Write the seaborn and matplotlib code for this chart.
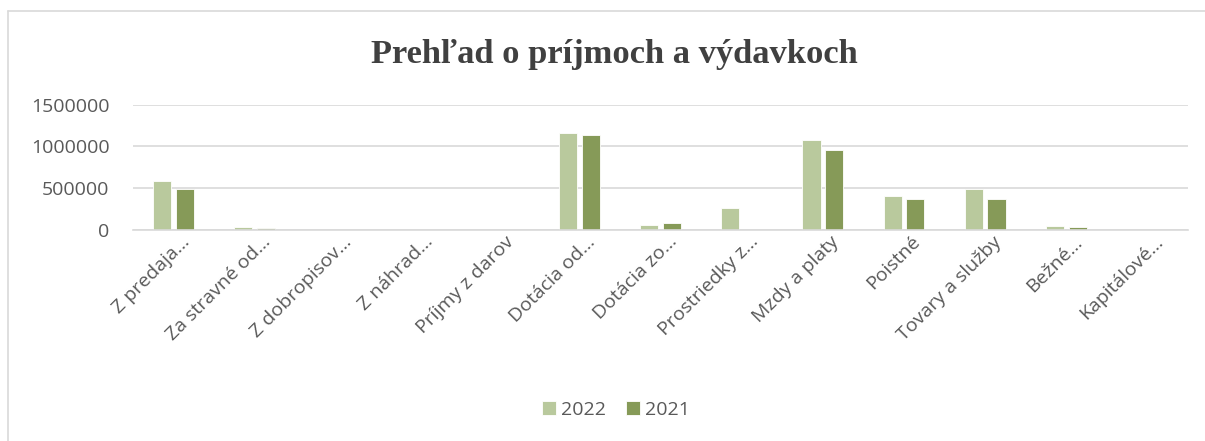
import matplotlib
matplotlib.use("Agg")
import matplotlib.pyplot as plt
import matplotlib.transforms as mtransforms
import seaborn as sns
import pandas as pd
from matplotlib.lines import Line2D
from matplotlib.ticker import FixedLocator

categories = ["Z predaja…", "Za stravné od…", "Z dobropisov…", "Z náhrad…", "Príjmy z darov",
              "Dotácia od…", "Dotácia zo…", "Prostriedky z…", "Mzdy a platy", "Poistné",
              "Tovary a služby", "Bežné…", "Kapitálové…"]
values_2022 = [583000, 35000, 5000, 1000, 0, 1160000, 60000, 262000, 1072000, 408000, 496000, 42000, 3000]
values_2021 = [485000, 25000, 3000, 0, 0, 1135000, 88000, 0, 955000, 369000, 369000, 32000, 2000]
series = ["2022", "2021"]
yticks = [0, 500000, 1000000, 1500000]

df = pd.DataFrame({
    "cat": categories * 2,
    "val": values_2022 + values_2021,
    "year": [series[0]] * len(categories) + [series[1]] * len(categories),
})

sns.set_theme(style="white")
plt.rcParams["font.family"] = ["Open Sans", "DejaVu Sans"]

W, H = 1205, 441
fig = plt.figure(figsize=(W / 100, H / 100), dpi=100)
ax = fig.add_axes([133 / W, 1 - 230 / H, (1188 - 133) / W, (230 - 104.7) / H])

colors = {"2022": "#BBD096", "2021": "#8AA54D"}
sns.barplot(data=df, x="cat", y="val", hue="year", palette=colors, ax=ax,
            width=0.56, gap=0.2, dodge=True, edgecolor="white", linewidth=0.6, legend=True)

fs = 14
ax.set_ylim(0, 1500000)
ax.yaxis.set_major_locator(FixedLocator(yticks))
ax.set_yticklabels([str(v) for v in yticks], fontsize=fs, color="#595959")
ax.grid(axis="y", color="#D9D9D9", linewidth=1.2)
ax.set_axisbelow(True)
for s in ["left", "right", "top"]:
    ax.spines[s].set_visible(False)
ax.spines["bottom"].set_color("#D9D9D9")
ax.spines["bottom"].set_linewidth(1.2)
ax.tick_params(axis="y", length=0, pad=17)
ax.set_xlabel("")
ax.set_ylabel("")
ax.set_xticks(range(len(categories)))
ax.set_xticklabels(categories, rotation=45, ha="right", rotation_mode="anchor",
                   fontsize=fs, color="#595959")
ax.tick_params(axis="x", length=0, pad=2)
offset = mtransforms.ScaledTranslation(7 / 100, 0, fig.dpi_scale_trans)
for lab in ax.get_xticklabels():
    lab.set_transform(lab.get_transform() + offset)
ax.set_xlim(-0.5, len(categories) - 0.5)

handles, labels = ax.get_legend_handles_labels()
ax.get_legend().remove()
leg = fig.legend(handles, labels, loc="center", bbox_to_anchor=(616 / W, 1 - 410 / H),
                 ncol=2, frameon=False, fontsize=fs,
                 handlelength=0.75, handleheight=0.75, handletextpad=0.25, columnspacing=1.0)
for t in leg.get_texts():
    t.set_color("#595959")

fig.text(614.5 / W, 1 - 55 / H, "Prehľad o príjmoch a výdavkoch", ha="center", va="center",
         fontsize=24.8, fontweight="bold", family=["Liberation Serif", "DejaVu Serif"], color="#404040")

fig.add_artist(Line2D([8 / W, 8 / W], [0, 1 - 11 / H], transform=fig.transFigure,
                      color="#D9D9D9", linewidth=1.2))
fig.add_artist(Line2D([8 / W, 1], [1 - 11 / H, 1 - 11 / H], transform=fig.transFigure,
                      color="#D9D9D9", linewidth=1.2))

fig.savefig("out.png", dpi=100)
